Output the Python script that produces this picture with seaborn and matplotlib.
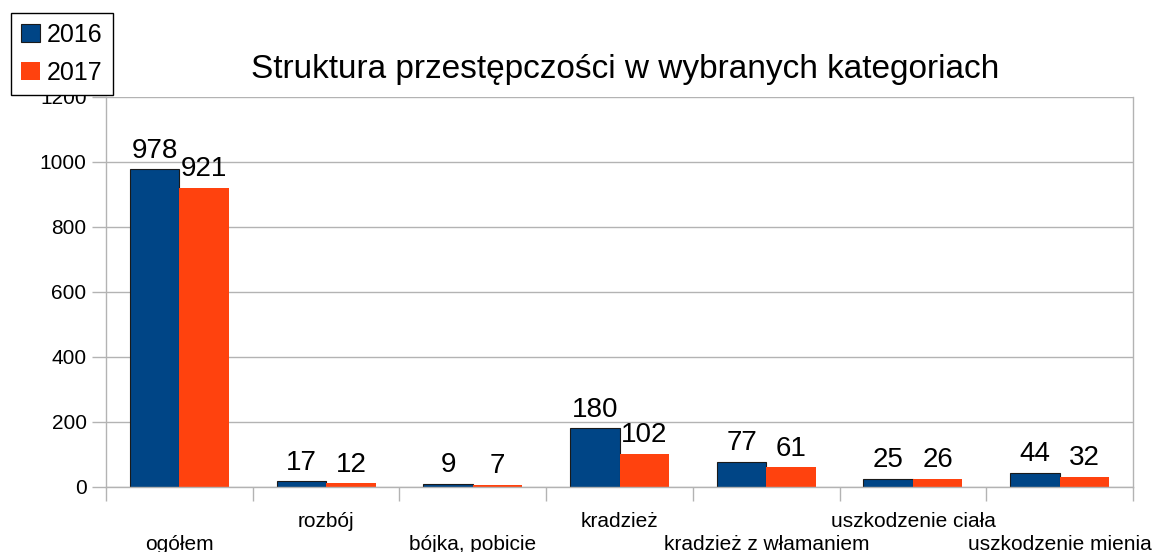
import pandas as pd
import numpy as np
import seaborn as sns
import matplotlib.pyplot as plt

# dane
kategorie = ['ogółem', 'rozbój', 'bójka, pobicie', 'kradzież',
             'kradzież z włamaniem', 'uszkodzenie ciała', 'uszkodzenie mienia']
lata = ['2016', '2017']
wart_2016 = [978, 17, 9, 180, 77, 25, 44]
wart_2017 = [921, 12, 7, 102, 61, 26, 32]
kolory = ['#004586', '#ff420e']

df = pd.DataFrame({
    'kategoria': kategorie * 2,
    'rok': [lata[0]] * len(kategorie) + [lata[1]] * len(kategorie),
    'liczba': wart_2016 + wart_2017,
})

sns.set_theme(style='white')
plt.rcParams['font.family'] = ['Liberation Sans', 'DejaVu Sans']
plt.rcParams['text.color'] = 'black'
plt.rcParams['xtick.labelcolor'] = 'black'
plt.rcParams['ytick.labelcolor'] = 'black'

fig = plt.figure(figsize=(11.55, 5.52), dpi=100)
ax = fig.add_axes([0.0918, 0.1178, 0.8892, 0.7065])

sns.barplot(data=df, x='kategoria', y='liczba', hue='rok', palette=kolory,
            width=0.675, saturation=1, ax=ax, legend=False)

# obramowanie niebieskich słupków
for p in ax.containers[0]:
    p.set_edgecolor('#1a1a1a')
    p.set_linewidth(0.8)
for p in ax.containers[1]:
    p.set_linewidth(0)

for c in ax.containers:
    ax.bar_label(c, fontsize=20, padding=4, color='black')

ax.set_ylim(0, 1200)
ax.set_yticks(np.arange(0, 1201, 200))
ax.set_xlim(-0.5, len(kategorie) - 0.5)
ax.yaxis.grid(True, color='#b3b3b3', linewidth=1)
ax.set_axisbelow(True)
ax.spines['top'].set_visible(False)
for s in ['left', 'bottom', 'right']:
    ax.spines[s].set_color('#b3b3b3')
    ax.spines[s].set_linewidth(1)

# podpisy kategorii naprzemiennie
etykiety = [('\n' + k) if i % 2 == 0 else k for i, k in enumerate(kategorie)]
ax.set_xticks(range(len(kategorie)))
ax.set_xticklabels(etykiety, fontsize=15, linespacing=1.3, va='top', color='black')
ax.tick_params(axis='x', which='major', length=0, pad=18)
ax.set_xticks(np.arange(-0.5, len(kategorie), 1), minor=True)
ax.tick_params(axis='x', which='minor', length=10, width=1, color='#b3b3b3',
               direction='out', bottom=True)
ax.tick_params(axis='y', length=10, width=1, color='#b3b3b3', left=True,
               labelsize=15, pad=4, labelcolor='black')

ax.set_xlabel('')
ax.set_ylabel('')
ax.set_title('Struktura przestępczości w wybranych kategoriach',
             fontsize=24, pad=14, x=0.505, color='black')

uchwyty = [plt.Rectangle((0, 0), 1, 1, facecolor=kolory[0], edgecolor='#1a1a1a', linewidth=0.8),
           plt.Rectangle((0, 0), 1, 1, facecolor=kolory[1], linewidth=0)]
leg = fig.legend(uchwyty, lata, loc='upper left',
                 bbox_to_anchor=(11 / 1155, 1 - 13 / 552), fontsize=18,
                 frameon=True, fancybox=False, handlelength=0.75, handleheight=0.75,
                 handletextpad=0.3, borderpad=0.4, labelspacing=0.55,
                 borderaxespad=0)
leg.get_frame().set_edgecolor('black')
leg.get_frame().set_linewidth(1)
leg.get_frame().set_alpha(1)

fig.savefig('out.png', dpi=100)
